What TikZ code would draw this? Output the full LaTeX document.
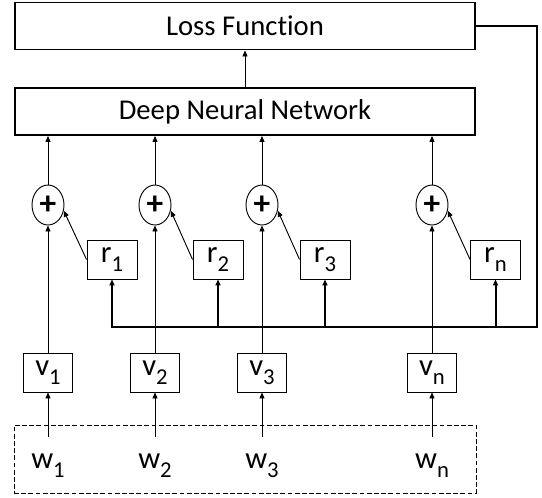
\documentclass[tikz,border=0pt]{standalone}
\usepackage{fontspec}
\setmainfont{Carlito}[Ligatures=NoCommon]
\usetikzlibrary{arrows.meta,shapes.geometric}
\newcommand{\lsub}[2]{#1\raisebox{-0.3em}{\fontsize{17}{17}\selectfont #2}}
\begin{document}
\begin{tikzpicture}[x=0.75pt,y=-0.75pt,
    >={Triangle[length=4.5pt,width=3.8pt]},
    font=\fontsize{21.5}{25}\selectfont,
    bigbox/.style={draw,line width=1.2pt,minimum width=345pt,minimum height=35.5pt,inner sep=0pt},
    rbox/.style={draw,line width=0.7pt,minimum width=37.5pt,minimum height=29.25pt,inner sep=0pt,font=\fontsize{23}{25}\selectfont},
    vbox/.style={draw,line width=0.7pt,minimum width=36.75pt,minimum height=29.25pt,inner sep=0pt,font=\fontsize{23}{25}\selectfont},
    sumnode/.style={draw,ellipse,line width=0.7pt,minimum width=24pt,minimum height=30pt,inner sep=0pt,font=\fontsize{25}{25}\bfseries},
    wlbl/.style={minimum height=43.5pt,inner sep=0pt,font=\fontsize{23}{25}\selectfont},
    inbox/.style={draw,line width=0.7pt,dash pattern=on 3.6pt off 1.8pt,minimum width=346.5pt,minimum height=51pt},
    thinline/.style={line width=0.7pt},
    loopline/.style={line width=1.5pt}]
    \useasboundingbox (0,0) rectangle (542,497);

    \node[bigbox] (loss) at (245,26) {Loss Function};
    \node[bigbox] (dnn) at (245,111.5) {Deep Neural Network};

    \node[sumnode] (s1) at (48,205) {+};
    \node[sumnode] (s2) at (155,205) {+};
    \node[sumnode] (s3) at (262,205) {+};
    \node[sumnode] (sn) at (432,205) {+};

    \node[rbox] (r1) at (112,259.5) {\lsub{r}{1}};
    \node[rbox] (r2) at (218,259.5) {\lsub{r}{2}};
    \node[rbox] (r3) at (325,259.5) {\lsub{r}{3}};
    \node[rbox] (rn) at (495.5,259.5) {\lsub{r}{n}};

    \node[vbox] (v1) at (48,372.5) {\lsub{v}{1}};
    \node[vbox] (v2) at (155,372.5) {\lsub{v}{2}};
    \node[vbox] (v3) at (262,372.5) {\lsub{v}{3}};
    \node[vbox] (vn) at (432,372.5) {\lsub{v}{n}};

    \node[inbox] (inputs) at (245,459) {};
    \node[wlbl] (w1) at (48,466) {\lsub{w}{1}};
    \node[wlbl] (w2) at (155,466) {\lsub{w}{2}};
    \node[wlbl] (w3) at (262,466) {\lsub{w}{3}};
    \node[wlbl] (wn) at (432,466) {\lsub{w}{n}};

    \coordinate (fb) at (537,327);

    \draw[->,thinline] (dnn) -- (loss);
    \draw[->,thinline] (s1) -- (s1 |- dnn.south);
    \draw[->,thinline] (s2) -- (s2 |- dnn.south);
    \draw[->,thinline] (s3) -- (s3 |- dnn.south);
    \draw[->,thinline] (sn) -- (sn |- dnn.south);

    \draw[->,thinline] (r1.west) -- (s1.-20);
    \draw[->,thinline] (r2.west) -- (s2.-20);
    \draw[->,thinline] (r3.west) -- (s3.-20);
    \draw[->,thinline] (rn.west) -- (sn.-20);

    \draw[->,thinline] (v1) -- (s1);
    \draw[->,thinline] (v2) -- (s2);
    \draw[->,thinline] (v3) -- (s3);
    \draw[->,thinline] (vn) -- (sn);

    \draw[->,thinline] (w1) -- (v1);
    \draw[->,thinline] (w2) -- (v2);
    \draw[->,thinline] (w3) -- (v3);
    \draw[->,thinline] (wn) -- (vn);

    \draw[->,loopline] (loss.east) -| (fb) -| (r1.south);
    \draw[->,loopline] (r2.south |- fb) -- (r2.south);
    \draw[->,loopline] (r3.south |- fb) -- (r3.south);
    \draw[->,loopline] (rn.south |- fb) -- (rn.south);
\end{tikzpicture}
\end{document}
